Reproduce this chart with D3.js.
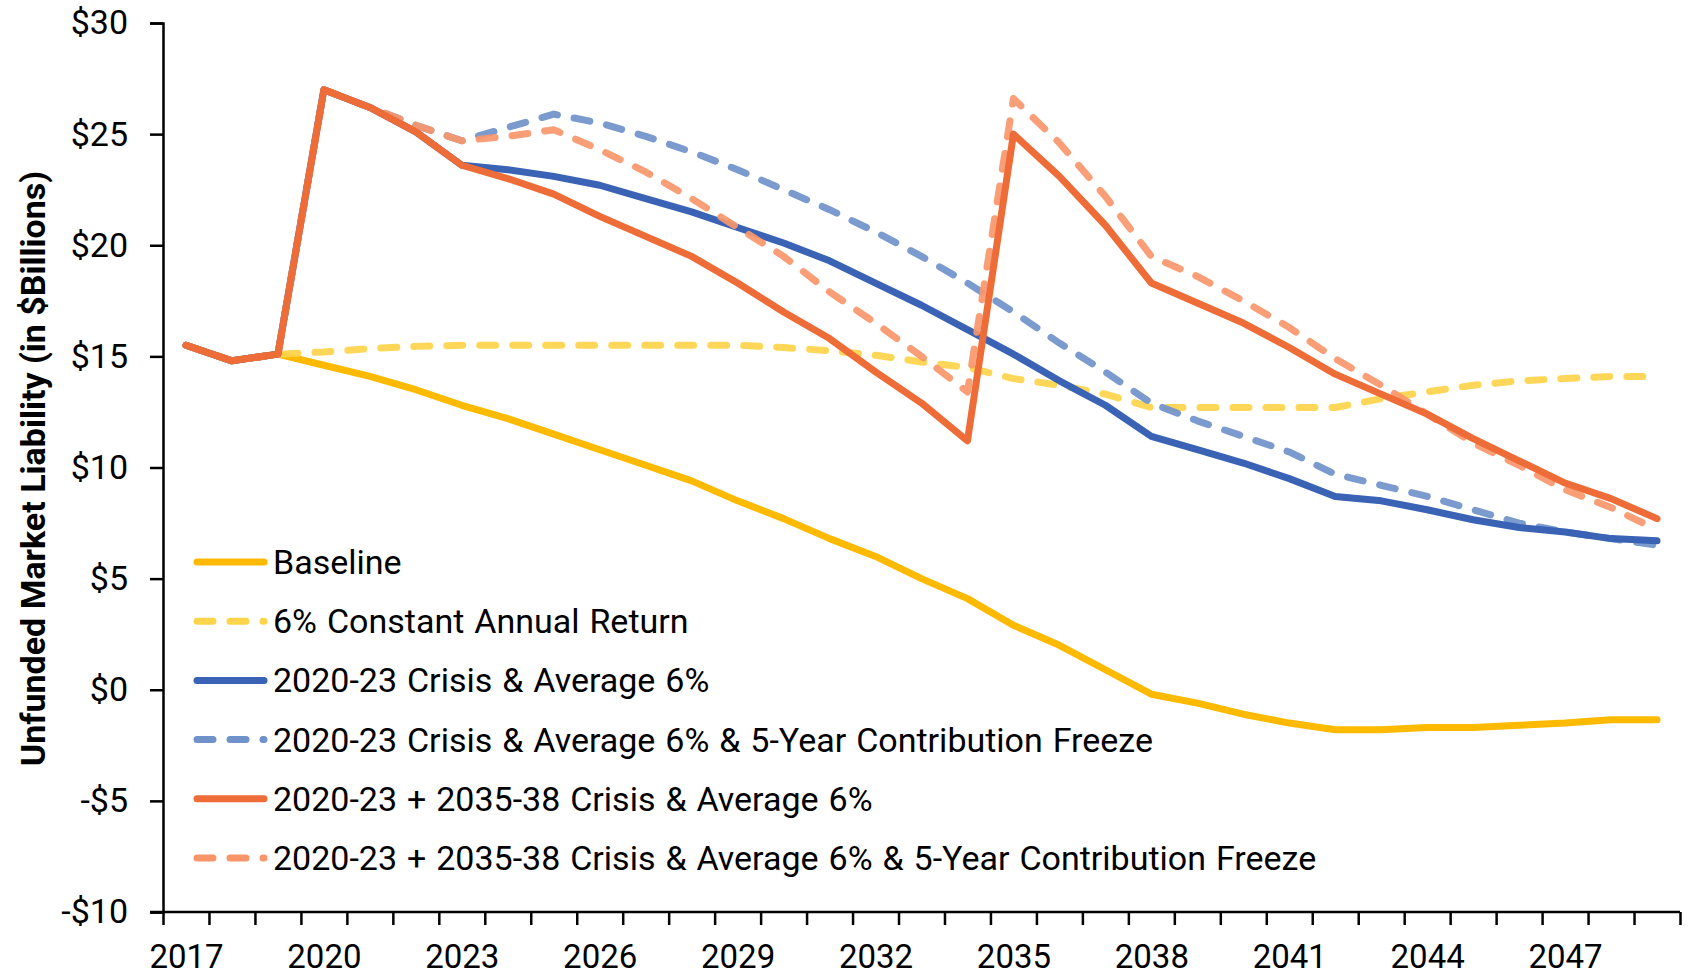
<!DOCTYPE html>
<html>
<head>
<meta charset="utf-8">
<script src="https://cdn.jsdelivr.net/npm/d3@7"></script>
<style>
    body { margin: 0; background: #fff; }
    text { font-family: Roboto, "Noto Sans", sans-serif; fill: #000; }
</style>
</head>
<body>
<div id="chart"></div>
<script>
// years on the category axis
const years = d3.range(2017, 2050);
const yearLabels = [2017, 2020, 2023, 2026, 2029, 2032, 2035, 2038, 2041, 2044, 2047];
const yTicks = [-10, -5, 0, 5, 10, 15, 20, 25, 30];

// series values ($ billions), 2017..2049
const baseline = [15.5, 14.8, 15.1, 14.6, 14.1, 13.5, 12.8, 12.2, 11.5, 10.8, 10.1, 9.4, 8.5, 7.7, 6.8, 6.0, 5.0, 4.1, 2.9, 2.0, 0.9, -0.2, -0.6, -1.1, -1.5, -1.8, -1.8, -1.7, -1.7, -1.6, -1.5, -1.35, -1.35];
const constant6 = [15.5, 14.8, 15.1, 15.2, 15.35, 15.45, 15.5, 15.5, 15.5, 15.5, 15.5, 15.5, 15.5, 15.4, 15.25, 15.05, 14.75, 14.5, 14.0, 13.7, 13.3, 12.7, 12.7, 12.7, 12.7, 12.7, 13.1, 13.4, 13.7, 13.9, 14.0, 14.1, 14.1];
const crisis = [15.5, 14.8, 15.1, 27.0, 26.2, 25.1, 23.6, 23.4, 23.1, 22.7, 22.1, 21.5, 20.8, 20.1, 19.3, 18.3, 17.3, 16.2, 15.1, 13.9, 12.8, 11.4, 10.8, 10.2, 9.5, 8.7, 8.5, 8.1, 7.65, 7.3, 7.1, 6.8, 6.7];
const crisisFreeze = [15.5, 14.8, 15.1, 27.0, 26.2, 25.4, 24.7, 25.3, 25.9, 25.5, 24.9, 24.2, 23.4, 22.5, 21.6, 20.6, 19.5, 18.3, 17.0, 15.6, 14.3, 12.9, 12.1, 11.4, 10.7, 9.7, 9.2, 8.7, 8.1, 7.5, 7.1, 6.8, 6.5];
const twoCrises = [15.5, 14.8, 15.1, 27.0, 26.2, 25.1, 23.6, 23.0, 22.3, 21.3, 20.4, 19.5, 18.3, 17.0, 15.8, 14.3, 12.9, 11.2, 25.0, 23.1, 20.9, 18.3, 17.4, 16.5, 15.4, 14.2, 13.3, 12.4, 11.3, 10.3, 9.3, 8.6, 7.7];
const twoCrisesFreeze = [15.5, 14.8, 15.1, 27.0, 26.2, 25.4, 24.7, 24.9, 25.2, 24.3, 23.3, 22.1, 20.8, 19.5, 17.9, 16.5, 15.0, 13.4, 26.6, 24.6, 22.2, 19.5, 18.6, 17.5, 16.3, 14.9, 13.7, 12.4, 11.1, 10.1, 9.0, 8.2, 7.2];

const seriesNames = [
    "Baseline",
    "6% Constant Annual Return",
    "2020-23 Crisis & Average 6%",
    "2020-23 Crisis & Average 6% & 5-Year Contribution Freeze",
    "2020-23 + 2035-38 Crisis & Average 6%",
    "2020-23 + 2035-38 Crisis & Average 6% & 5-Year Contribution Freeze"
];
const seriesValues = [baseline, constant6, crisis, crisisFreeze, twoCrises, twoCrisesFreeze];
const seriesColors = ["#fdba00", "#fed44a", "#3a62b5", "#7092cb", "#ee6c37", "#f8966a"];
const seriesDashed = [false, true, false, true, false, true];
// draw order: dashed under the solid crisis lines
const drawOrder = [0, 1, 3, 2, 5, 4];

const width = 1694, height = 978;
const plot = { left: 163, right: 1680, top: 23, bottom: 912 };

const svg = d3.select("#chart").append("svg")
    .attr("width", width)
    .attr("height", height);

svg.append("rect").attr("width", width).attr("height", height).attr("fill", "#fff");

const x = d3.scaleLinear()
    .domain([years[0] - 0.5, years[years.length - 1] + 0.5])
    .range([plot.left, plot.right]);

const y = d3.scaleLinear()
    .domain([-10, 30])
    .range([plot.bottom, plot.top]);

// y axis
const yAxis = svg.append("g")
    .attr("transform", "translate(" + plot.left + ",0)")
    .call(d3.axisLeft(y).tickValues(yTicks).tickSize(13).tickPadding(10)
        .tickFormat(d => (d < 0 ? "-$" : "$") + Math.abs(d)));
yAxis.select(".domain").attr("stroke", "#000").attr("stroke-width", 2.5);
yAxis.selectAll(".tick line").attr("stroke", "#000").attr("stroke-width", 2.5);
yAxis.selectAll(".tick text").style("font-size", "34px").attr("dx", "-12");

// x axis: tick marks between categories
const xTickMarks = svg.append("g")
    .attr("transform", "translate(0," + plot.bottom + ")")
    .call(d3.axisBottom(x).tickValues(d3.range(years[0] - 0.5, years[years.length - 1] + 1, 1))
        .tickSize(13).tickSizeOuter(0).tickFormat(""));
xTickMarks.select(".domain").attr("stroke", "#000").attr("stroke-width", 2.5)
    .attr("d", "M" + (plot.left - 13) + ",0H" + plot.right);
xTickMarks.selectAll(".tick line").attr("stroke", "#000").attr("stroke-width", 2.5);

const xLabels = svg.append("g")
    .attr("transform", "translate(0," + plot.bottom + ")")
    .call(d3.axisBottom(x).tickValues(yearLabels).tickSize(0).tickPadding(33).tickFormat(d3.format("d")));
xLabels.select(".domain").remove();
xLabels.selectAll(".tick text").style("font-size", "33px");

// y axis title
svg.append("text")
    .attr("transform", "translate(45," + ((plot.top + plot.bottom) / 2 + 1) + ") rotate(-90)")
    .attr("text-anchor", "middle")
    .style("font-size", "34px")
    .style("font-weight", "bold")
    .text("Unfunded Market Liability (in $Billions)");

const line = d3.line()
    .x((d, i) => x(years[i]))
    .y(d => y(d));

drawOrder.forEach(function(k) {
    svg.append("path")
        .datum(seriesValues[k])
        .attr("fill", "none")
        .attr("stroke", seriesColors[k])
        .attr("stroke-width", 7)
        .attr("stroke-linejoin", "round")
        .attr("stroke-linecap", "round")
        .attr("stroke-dasharray", seriesDashed[k] ? "16,17" : null)
        .attr("opacity", seriesDashed[k] ? 0.92 : 1)
        .attr("d", line);
});

// legend
const legend = svg.append("g").attr("transform", "translate(197,562)");
seriesNames.forEach(function(name, i) {
    const g = legend.append("g").attr("transform", "translate(0," + (i * 59.2) + ")");
    g.append("line")
        .attr("x1", 0).attr("x2", 67)
        .attr("stroke", seriesColors[i])
        .attr("stroke-width", 7)
        .attr("stroke-linecap", "round")
        .attr("stroke-dasharray", seriesDashed[i] ? "16,17" : null);
    g.append("text")
        .attr("x", 76)
        .attr("dy", "0.35em")
        .style("font-size", "34px")
        .style("word-spacing", "1.5px")
        .text(name);
});
</script>
</body>
</html>
